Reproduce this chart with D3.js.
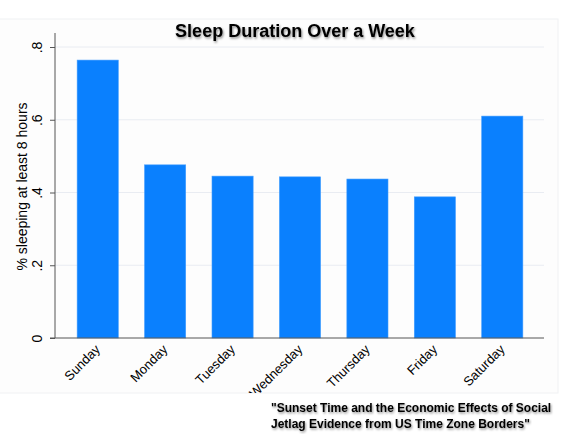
<!DOCTYPE html>
<html><head><meta charset="utf-8">
<script src="https://cdn.jsdelivr.net/npm/d3@7"></script>
<style>
html,body{margin:0;padding:0;background:#fff;}
svg{display:block;font-family:"Liberation Sans",Arial,Helvetica,sans-serif;}
</style></head>
<body>
<svg id="chart" width="567" height="434"></svg>
<script>
const days = ["Sunday","Monday","Tuesday","Wednesday","Thursday","Friday","Saturday"];
const shareSleeping8h = [0.764, 0.476, 0.445, 0.443, 0.437, 0.388, 0.610];
const yTicks = [0, 0.2, 0.4, 0.6, 0.8];
const yTickLabels = ["0", ".2", ".4", ".6", ".8"];
const titleText = "Sleep Duration Over a Week";
const yTitle = "% sleeping at least 8 hours";
const captionLines = ["\"Sunset Time and the Economic Effects of Social", "Jetlag Evidence from US Time Zone Borders\""];

const svg = d3.select("#chart");
const defs = svg.append("defs");
const f = defs.append("filter").attr("id","shadow").attr("x","-10%").attr("y","-30%").attr("width","120%").attr("height","160%");
f.append("feDropShadow").attr("dx",1).attr("dy",1.5).attr("stdDeviation",1.2).attr("flood-color","#000").attr("flood-opacity",0.45);
defs.append("clipPath").attr("id","gclip").append("rect").attr("x",0).attr("y",19).attr("width",559).attr("height",374);

// outer graph region border
svg.append("rect").attr("x",-1).attr("y",19).attr("width",559).attr("height",374)
  .attr("fill","#fdfdfd").attr("stroke","#f0f1f3").attr("stroke-width",1);

const plotLeft = 55, plotRight = 544, yTop = 33;
const x = d3.scaleBand().domain(days).range([64, 536]).paddingInner(0.39).paddingOuter(0.195);
const y = d3.scaleLinear().domain([0, 0.8]).range([338, 47]);

// gridlines
svg.append("g").selectAll("line").data(yTicks.slice(1)).join("line")
  .attr("x1", plotLeft).attr("x2", plotRight)
  .attr("y1", d => y(d)).attr("y2", d => y(d))
  .attr("stroke","#e9ecf2").attr("stroke-width",1);

// bars
svg.append("g").selectAll("rect").data(days).join("rect")
  .attr("x", d => x(d))
  .attr("width", x.bandwidth())
  .attr("y", (d,i) => y(shareSleeping8h[i]))
  .attr("height", (d,i) => y(0) - y(shareSleeping8h[i]))
  .attr("fill","#0a80fe")
  .attr("stroke","#3f9bff").attr("stroke-width",0.6);

// y axis
const yAxis = d3.axisLeft(y).tickValues(yTicks).tickFormat((d,i) => yTickLabels[i]).tickSize(5).tickSizeOuter(0);
const gy = svg.append("g").attr("transform",`translate(${plotLeft},0)`).call(yAxis);
gy.select(".domain").remove();
gy.append("line").attr("x1",0).attr("x2",0).attr("y1",yTop).attr("y2",y(0)).attr("stroke","#555");
gy.selectAll(".tick line").attr("stroke","#555");
gy.selectAll(".tick text")
  .attr("font-size",14).attr("fill","#000")
  .attr("x",0).attr("y",0).attr("dy",0).attr("text-anchor","middle")
  .attr("transform", "translate(-13,0) rotate(-90)");

// x axis
const gx = svg.append("g").attr("transform",`translate(0,${y(0)})`);
gx.append("line").attr("x1",50).attr("x2",plotRight).attr("y1",0).attr("y2",0).attr("stroke","#555");
const labels = svg.append("g").attr("clip-path","url(#gclip)");
labels.selectAll("text").data(days).join("text")
  .attr("transform", d => `translate(${x(d) + x.bandwidth()/2},${y(0) + 9}) rotate(-45)`)
  .attr("text-anchor","end").attr("dy","0.35em")
  .attr("font-size",13).attr("fill","#000")
  .text(d => d);

// y title
svg.append("text")
  .attr("transform",`translate(27,186.5) rotate(-90)`)
  .attr("text-anchor","middle").attr("font-size",14).attr("fill","#000")
  .text(yTitle);

// title
svg.append("text").attr("x",295).attr("y",37).attr("text-anchor","middle")
  .attr("font-size",18).attr("font-weight","bold").attr("fill","#000")
  .attr("filter","url(#shadow)").text(titleText);

// caption
svg.append("g").selectAll("text").data(captionLines).join("text")
  .attr("x",271).attr("y",(d,i) => 412 + i*16)
  .attr("font-size",12).attr("font-weight","bold").attr("fill","#000")
  .attr("filter","url(#shadow)").text(d => d);
</script>
</body></html>
